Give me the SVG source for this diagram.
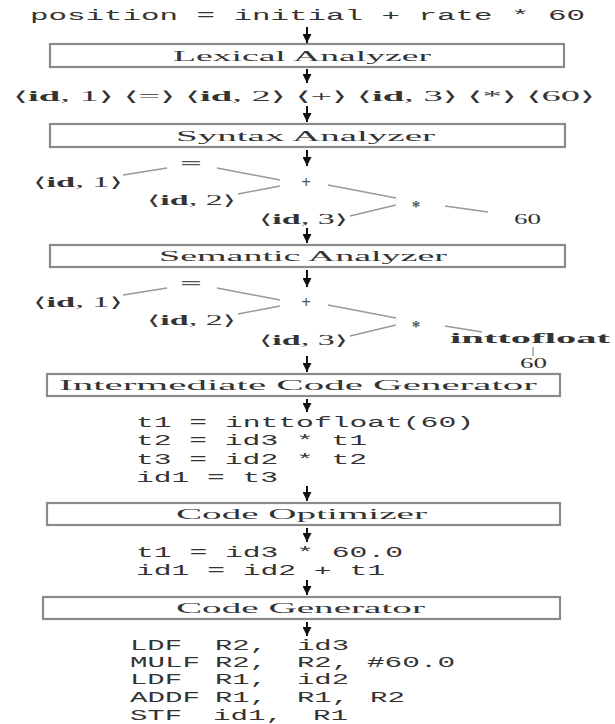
<svg xmlns="http://www.w3.org/2000/svg" width="615" height="724" viewBox="0 0 615 724">
<defs>
<marker id="ah" viewBox="0 0 10 10" refX="10" refY="5" markerWidth="4.5" markerHeight="4.5" orient="auto" markerUnits="strokeWidth">
<path d="M0,0 L10,5 L0,10 Z" fill="#111"/>
</marker>
</defs>
<style>
.box{fill:#fff;stroke:#8a8a8a;stroke-width:2.2}
.lbl{font-family:"Liberation Serif","DejaVu Serif",serif;font-size:14.5px;fill:#333}
.mono{font-family:"Liberation Mono","DejaVu Sans Mono",monospace;font-size:14px;fill:#333}
.ser{font-family:"Liberation Serif","DejaVu Serif",serif;font-size:14px;fill:#333}
.op{font-family:"Liberation Serif","DejaVu Serif",serif;font-size:17px;font-weight:bold;fill:#555;text-anchor:middle}
.b{font-weight:bold}
.edge{stroke:#999;stroke-width:1.4;fill:none}
.arr{stroke:#111;stroke-width:2;fill:none;marker-end:url(#ah)}
</style>
<rect width="615" height="724" fill="#fff"/>

<g id="source">
<text class="mono" x="30" y="20" textLength="555" lengthAdjust="spacingAndGlyphs">position = initial + rate * 60</text>
</g>

<g id="lexical">
<rect class="box" x="50" y="44" width="514" height="23"/>
<text class="lbl" x="173" y="61" textLength="258" lengthAdjust="spacingAndGlyphs">Lexical Analyzer</text>
</g>

<g id="tokens">
<text class="ser" x="13" y="101" textLength="582" lengthAdjust="spacingAndGlyphs">⟨<tspan class="b">id</tspan>, 1⟩ ⟨=⟩ ⟨<tspan class="b">id</tspan>, 2⟩ ⟨+⟩ ⟨<tspan class="b">id</tspan>, 3⟩ ⟨*⟩ ⟨60⟩</text>
</g>

<g id="syntax">
<rect class="box" x="50" y="124" width="515" height="23"/>
<text class="lbl" x="176" y="141" textLength="259" lengthAdjust="spacingAndGlyphs">Syntax Analyzer</text>
</g>

<g id="tree1">
<text class="op" x="191" y="169" textLength="22" lengthAdjust="spacingAndGlyphs">=</text>
<text class="ser" x="33" y="187" textLength="90" lengthAdjust="spacingAndGlyphs">⟨<tspan class="b">id</tspan>, 1⟩</text>
<text class="op" x="306" y="188">+</text>
<text class="op" x="416" y="212">*</text>
<text class="ser" x="147" y="205" textLength="89" lengthAdjust="spacingAndGlyphs">⟨<tspan class="b">id</tspan>, 2⟩</text>
<text class="ser" x="259" y="224" textLength="89" lengthAdjust="spacingAndGlyphs">⟨<tspan class="b">id</tspan>, 3⟩</text>
<text class="ser" x="514" y="224" textLength="27" lengthAdjust="spacingAndGlyphs">60</text>
</g>

<g id="semantic">
<rect class="box" x="50" y="245" width="515" height="22"/>
<text class="lbl" x="159" y="261" textLength="288" lengthAdjust="spacingAndGlyphs">Semantic Analyzer</text>
</g>

<g id="tree2">
<text class="op" x="191" y="289" textLength="22" lengthAdjust="spacingAndGlyphs">=</text>
<text class="ser" x="33" y="307" textLength="90" lengthAdjust="spacingAndGlyphs">⟨<tspan class="b">id</tspan>, 1⟩</text>
<text class="op" x="306" y="308">+</text>
<text class="op" x="416" y="332">*</text>
<text class="ser" x="147" y="325" textLength="89" lengthAdjust="spacingAndGlyphs">⟨<tspan class="b">id</tspan>, 2⟩</text>
<text class="ser" x="259" y="345" textLength="89" lengthAdjust="spacingAndGlyphs">⟨<tspan class="b">id</tspan>, 3⟩</text>
<text class="ser b" x="450" y="343" textLength="160" lengthAdjust="spacingAndGlyphs">inttofloat</text>
<text class="ser" x="520" y="368" textLength="27" lengthAdjust="spacingAndGlyphs">60</text>
</g>

<g id="intermediate">
<rect class="box" x="47" y="374" width="513" height="22"/>
<text class="lbl" x="59" y="390" textLength="478" lengthAdjust="spacingAndGlyphs">Intermediate Code Generator</text>
</g>

<g id="tac">
<text class="mono" x="136" y="427" textLength="338" lengthAdjust="spacingAndGlyphs">t1 = inttofloat(60)</text>
<text class="mono" x="136" y="445" textLength="231" lengthAdjust="spacingAndGlyphs">t2 = id3 * t1</text>
<text class="mono" x="136" y="464" textLength="231" lengthAdjust="spacingAndGlyphs">t3 = id2 * t2</text>
<text class="mono" x="136" y="482" textLength="142" lengthAdjust="spacingAndGlyphs">id1 = t3</text>
</g>

<g id="optimizer">
<rect class="box" x="47" y="503" width="513" height="22"/>
<text class="lbl" x="176" y="519" textLength="251" lengthAdjust="spacingAndGlyphs">Code Optimizer</text>
</g>

<g id="opt">
<text class="mono" x="136" y="557" textLength="267" lengthAdjust="spacingAndGlyphs">t1 = id3 * 60.0</text>
<text class="mono" x="136" y="575" textLength="249" lengthAdjust="spacingAndGlyphs">id1 = id2 + t1</text>
</g>

<g id="generator">
<rect class="box" x="43" y="597" width="517" height="22"/>
<text class="lbl" x="176" y="613" textLength="249" lengthAdjust="spacingAndGlyphs">Code Generator</text>
</g>

<g id="asm">
<text class="mono" x="130" y="650" textLength="52" lengthAdjust="spacingAndGlyphs">LDF</text>
<text class="mono" x="215" y="650" textLength="52" lengthAdjust="spacingAndGlyphs">R2,</text>
<text class="mono" x="297" y="650" textLength="52" lengthAdjust="spacingAndGlyphs">id3</text>
<text class="mono" x="130" y="667" textLength="70" lengthAdjust="spacingAndGlyphs">MULF</text>
<text class="mono" x="215" y="667" textLength="52" lengthAdjust="spacingAndGlyphs">R2,</text>
<text class="mono" x="297" y="667" textLength="52" lengthAdjust="spacingAndGlyphs">R2,</text>
<text class="mono" x="367" y="667" textLength="88" lengthAdjust="spacingAndGlyphs">#60.0</text>
<text class="mono" x="130" y="684" textLength="52" lengthAdjust="spacingAndGlyphs">LDF</text>
<text class="mono" x="215" y="684" textLength="52" lengthAdjust="spacingAndGlyphs">R1,</text>
<text class="mono" x="297" y="684" textLength="52" lengthAdjust="spacingAndGlyphs">id2</text>
<text class="mono" x="130" y="702" textLength="70" lengthAdjust="spacingAndGlyphs">ADDF</text>
<text class="mono" x="215" y="702" textLength="52" lengthAdjust="spacingAndGlyphs">R1,</text>
<text class="mono" x="297" y="702" textLength="52" lengthAdjust="spacingAndGlyphs">R1,</text>
<text class="mono" x="370" y="702" textLength="35" lengthAdjust="spacingAndGlyphs">R2</text>
<text class="mono" x="130" y="720" textLength="52" lengthAdjust="spacingAndGlyphs">STF</text>
<text class="mono" x="213" y="720" textLength="70" lengthAdjust="spacingAndGlyphs">id1,</text>
<text class="mono" x="313" y="720" textLength="35" lengthAdjust="spacingAndGlyphs">R1</text>
</g>

<g id="connectors">
<line class="arr" x1="307" y1="27" x2="307" y2="43"/>
<line class="arr" x1="307" y1="69" x2="307" y2="83"/>
<line class="arr" x1="307" y1="106" x2="307" y2="122"/>
<line class="arr" x1="307" y1="150" x2="307" y2="166"/>
<line class="arr" x1="307" y1="228" x2="307" y2="243"/>
<line class="arr" x1="307" y1="270" x2="307" y2="287"/>
<line class="arr" x1="307" y1="356" x2="307" y2="372"/>
<line class="arr" x1="307" y1="399" x2="307" y2="412"/>
<line class="arr" x1="307" y1="486" x2="307" y2="501"/>
<line class="arr" x1="307" y1="528" x2="307" y2="542"/>
<line class="arr" x1="307" y1="580" x2="307" y2="595"/>
<line class="arr" x1="307" y1="622" x2="307" y2="636"/>

<line class="edge" x1="123" y1="175" x2="167" y2="168"/>
<line class="edge" x1="217" y1="168" x2="280" y2="180"/>
<line class="edge" x1="280" y1="186" x2="238" y2="194"/>
<line class="edge" x1="328" y1="185" x2="396" y2="198"/>
<line class="edge" x1="396" y1="205" x2="350" y2="216"/>
<line class="edge" x1="445" y1="206" x2="488" y2="212"/>

<line class="edge" x1="123" y1="295" x2="167" y2="288"/>
<line class="edge" x1="217" y1="288" x2="280" y2="300"/>
<line class="edge" x1="280" y1="306" x2="238" y2="314"/>
<line class="edge" x1="328" y1="305" x2="396" y2="318"/>
<line class="edge" x1="396" y1="325" x2="350" y2="336"/>
<line class="edge" x1="445" y1="326" x2="482" y2="332"/>
<line class="edge" x1="533" y1="347" x2="533" y2="356"/>
</g>
</svg>
